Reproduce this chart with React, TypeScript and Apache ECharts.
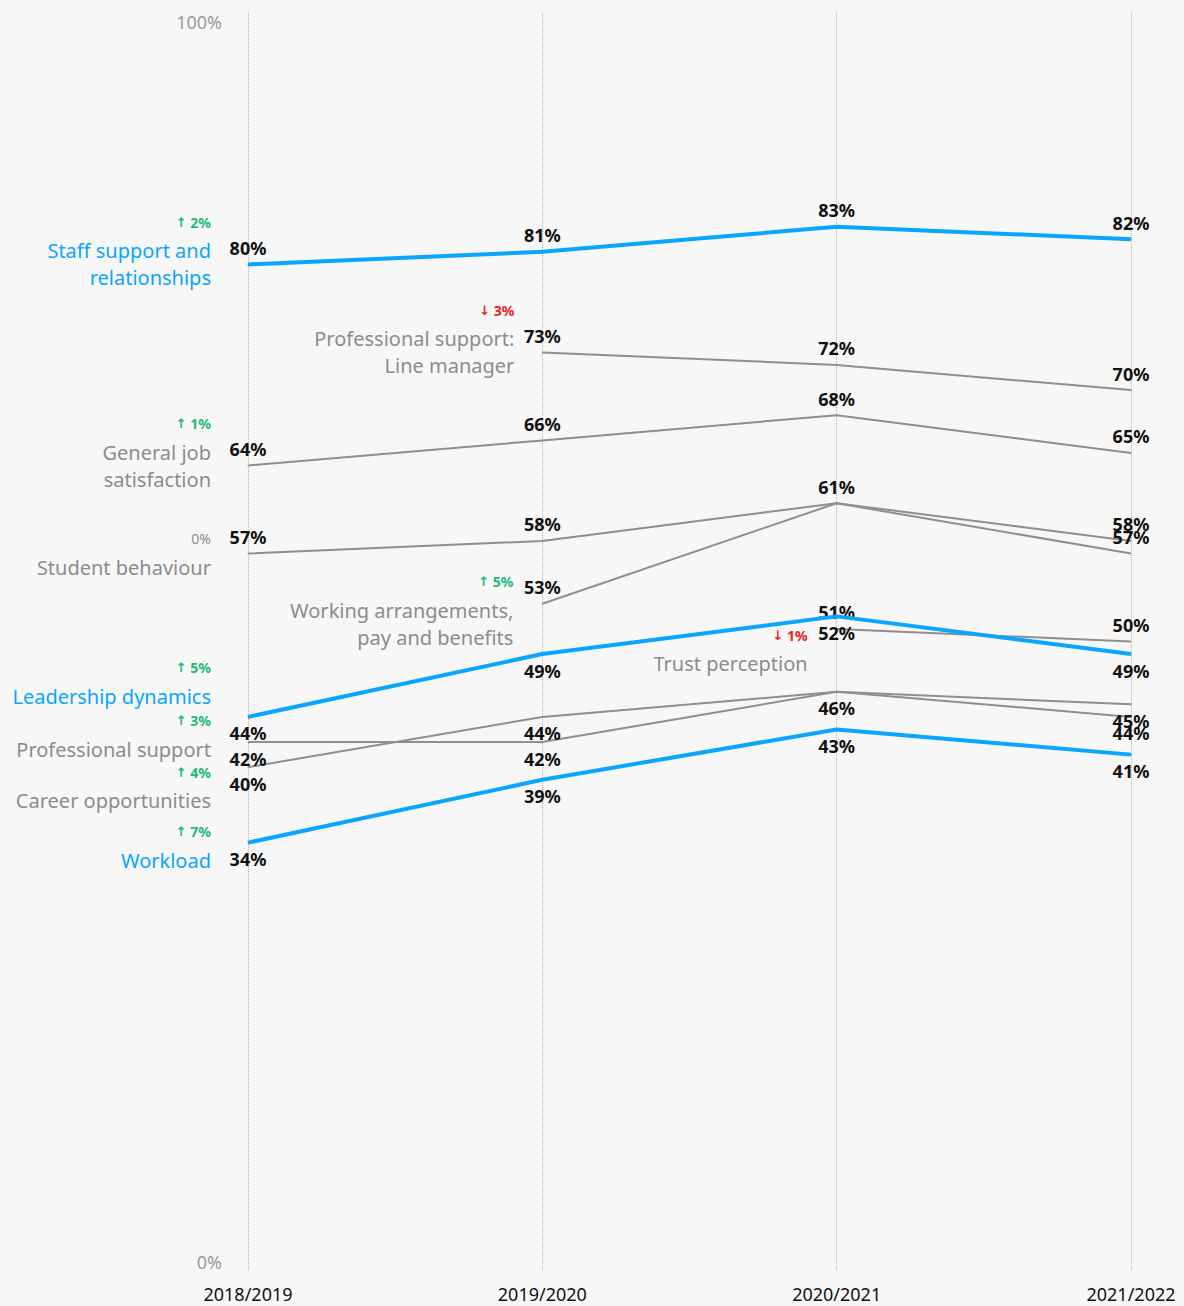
import React, { useEffect, useRef } from "react";
import * as echarts from "echarts";

const years = ["2018/2019", "2019/2020", "2020/2021", "2021/2022"];
const staffSupport = [80, 81, 83, 82];
const lineManager: (number | null)[] = [null, 73, 72, 70];
const generalJob = [64, 66, 68, 65];
const studentBehaviour = [57, 58, 61, 57];
const workingArrangements: (number | null)[] = [null, 53, 61, 58];
const trustPerception: (number | null)[] = [null, null, 51, 50];
const leadership = [44, 49, 52, 49];
const professionalSupport = [42, 42, 46, 45];
const careerOpportunities = [40, 44, 46, 44];
const workload = [34, 39, 43, 41];
const yTicks = [0, 100];

const BLUE = "#0AA5FF";
const GRAY = "#8f8f8f";
const GRAY_TEXT = "#8c8c8c";
const GREEN = "#1db87a";
const RED = "#e8211b";
const FONT = "'Noto Sans', 'DejaVu Sans', sans-serif";

type Cfg = {
  name: string;
  data: (number | null)[];
  color: string;
  width: number;
  side: "top" | "bottom";
  hide?: number[];
  dist: number;
  chgDy: number;
  nameDy: number;
};

const configs: Cfg[] = [
  { name: "Professional support:\nLine manager", data: lineManager, color: GRAY, width: 2, side: "top", dist: 28, chgDy: -42, nameDy: 0 },
  { name: "General job\nsatisfaction", data: generalJob, color: GRAY, width: 2, side: "top", dist: 37, chgDy: -42, nameDy: 0 },
  { name: "Student behaviour", data: studentBehaviour, color: GRAY, width: 2, side: "top", dist: 37, chgDy: -15, nameDy: 14 },
  { name: "Working arrangements,\npay and benefits", data: workingArrangements, color: GRAY, width: 2, side: "top", hide: [2], dist: 29, chgDy: -22, nameDy: 20 },
  { name: "Trust perception", data: trustPerception, color: GRAY, width: 2, side: "top", dist: 29, chgDy: 7, nameDy: 35 },
  { name: "Professional support", data: professionalSupport, color: GRAY, width: 2, side: "bottom", dist: 37, chgDy: -22, nameDy: 7 },
  { name: "Career opportunities", data: careerOpportunities, color: GRAY, width: 2, side: "bottom", hide: [2], dist: 37, chgDy: 5, nameDy: 33 },
  { name: "Staff support and\nrelationships", data: staffSupport, color: BLUE, width: 4, side: "top", dist: 37, chgDy: -42, nameDy: 0 },
  { name: "Leadership dynamics", data: leadership, color: BLUE, width: 4, side: "bottom", dist: 37, chgDy: -49, nameDy: -20 },
  { name: "Workload", data: workload, color: BLUE, width: 4, side: "bottom", dist: 37, chgDy: -11, nameDy: 18 },
];

function buildSeries() {
  return configs.map((c) => {
    const firstIdx = c.data.findIndex((v) => v !== null);
    const firstVal = c.data[firstIdx] as number;
    const lastVal = c.data[c.data.length - 1] as number;
    const diff = lastVal - firstVal;
    const chgText =
      diff > 0 ? `{a|↑}{n| ${diff}%}` : diff < 0 ? `{a|↓}{n| ${-diff}%}` : `{z|0%}`;
    const chgColor = diff > 0 ? GREEN : diff < 0 ? RED : GRAY_TEXT;
    const isBlue = c.color === BLUE;
    return {
      type: "line",
      name: c.name,
      data: c.data.map((v, i) =>
        v === null
          ? "-"
          : c.hide && c.hide.includes(i)
          ? { value: v, label: { show: false } }
          : v
      ),
      symbol: "circle",
      symbolSize: 1,
      showSymbol: true,
      itemStyle: { color: c.color },
      lineStyle: { color: c.color, width: c.width },
      connectNulls: false,
      z: isBlue ? 3 : 2,
      label: {
        show: true,
        position: c.side,
        distance: 7,
        formatter: (p: any) => `${p.value}%`,
        color: "#111",
        fontFamily: FONT,
        fontSize: 18,
        fontWeight: "bold",
        lineHeight: 18,
      },
      emphasis: { disabled: true },
      markPoint: {
        symbol: "circle",
        symbolSize: 0,
        silent: true,
        data: [
          {
            coord: [firstIdx, firstVal],
            label: {
              show: true,
              position: "left",
              distance: c.dist,
              offset: [0, c.chgDy],
              formatter: chgText,
              align: "right",
              rich: {
                a: { color: chgColor, fontFamily: "'DejaVu Sans', sans-serif", fontSize: 13, fontWeight: "bold" },
                n: { color: chgColor, fontFamily: FONT, fontSize: 14, fontWeight: "bold" },
                z: { color: GRAY_TEXT, fontFamily: FONT, fontSize: 14 },
              },
            },
          },
          {
            coord: [firstIdx, firstVal],
            label: {
              show: true,
              position: "left",
              distance: c.dist,
              offset: [0, c.nameDy],
              formatter: c.name,
              color: isBlue ? BLUE : GRAY_TEXT,
              fontFamily: FONT,
              fontSize: 20,
              lineHeight: 27,
              align: "right",
            },
          },
        ],
      },
    };
  });
}

export default function App() {
  const ref = useRef<HTMLDivElement>(null);
  useEffect(() => {
    document.body.style.margin = "0";
    document.body.style.background = "#f7f7f7";
    const chart = echarts.init(ref.current!, undefined, { renderer: "svg" });
    chart.setOption({
      animation: false,
      backgroundColor: "#f7f7f7",
      textStyle: { fontFamily: FONT },
      grid: { left: 248, right: 53, top: 13, bottom: 36, containLabel: false },
      xAxis: {
        type: "category",
        boundaryGap: false,
        data: years,
        axisLine: { show: false },
        axisTick: { show: false },
        splitLine: { show: true, lineStyle: { type: "dotted", color: "#b3b3b3", width: 1 } },
        axisLabel: { interval: 0, margin: 15, fontSize: 18, color: "#111", fontFamily: FONT },
      },
      yAxis: {
        type: "value",
        min: yTicks[0],
        max: yTicks[1],
        interval: 100,
        axisLine: { show: false },
        axisTick: { show: false },
        splitLine: { show: false },
        axisLabel: {
          margin: 26,
          formatter: (v: number) => (v === yTicks[1] ? `{t|${v}%}` : `{b|${v}%}`),
          rich: {
            t: { padding: [18, 0, 0, 0], fontSize: 18, color: "#999", fontFamily: FONT },
            b: { padding: [0, 0, 16, 0], fontSize: 18, color: "#999", fontFamily: FONT },
          },
        },
      },
      series: buildSeries(),
    });
    return () => chart.dispose();
  }, []);
  return <div ref={ref} style={{ width: 1184, height: 1306 }} />;
}
